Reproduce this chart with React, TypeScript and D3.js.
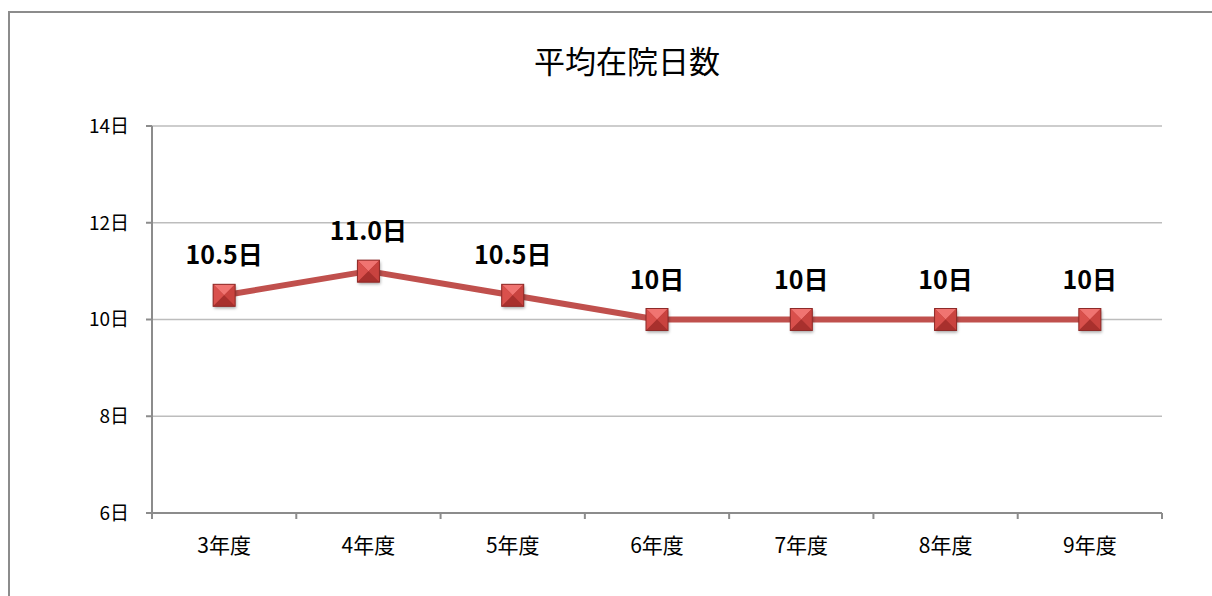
import React from 'react'
import * as d3 from 'd3'

const categories = ['3年度', '4年度', '5年度', '6年度', '7年度', '8年度', '9年度']
const values = [10.5, 11.0, 10.5, 10, 10, 10, 10]
const valueLabels = ['10.5日', '11.0日', '10.5日', '10日', '10日', '10日', '10日']
const yTicks = [6, 8, 10, 12, 14]

const W = 1212
const H = 596
const left = 152
const right = 1162
const top = 126
const bottom = 513
const font = '"Noto Sans CJK JP", "Noto Sans", sans-serif'

const App = () => {
  const x = d3.scaleBand<string>().domain(categories).range([left, right])
  const y = d3.scaleLinear().domain([6, 14]).range([bottom, top])
  const cx = (c: string) => (x(c) ?? 0) + x.bandwidth() / 2

  const line = d3
    .line<number>()
    .x((_, i) => cx(categories[i]))
    .y(d => y(d))

  const s = 11 // half marker size

  return (
    <svg width={W} height={H} style={{ position: 'absolute', left: 0, top: 0 }}>
      <defs>
        <filter id="sh" x="-50%" y="-50%" width="200%" height="200%">
          <feDropShadow dx="1" dy="2" stdDeviation="1.5" floodColor="#000" floodOpacity="0.35" />
        </filter>
      </defs>
      <rect x={0} y={0} width={W} height={H} fill="#fff" />
      {/* chart frame */}
      <path d={`M9,${H} V12 H${W}`} fill="none" stroke="#8c8c8c" strokeWidth={2} />

      <text x={627} y={73} textAnchor="middle" fontFamily={font} fontSize={31} fill="#000">
        平均在院日数
      </text>

      {/* grid */}
      {yTicks.map(t => (
        <g key={t}>
          {t !== 6 && (
            <line x1={left} x2={right} y1={y(t)} y2={y(t)} stroke="#bdbdbd" strokeWidth={1.5} />
          )}
          <line x1={left - 6} x2={left} y1={y(t)} y2={y(t)} stroke="#8c8c8c" strokeWidth={2} />
          <text
            x={129}
            y={y(t)}
            dy="0.36em"
            textAnchor="end"
            fontFamily={font}
            fontSize={19}
            fill="#000"
          >
            {t}日
          </text>
        </g>
      ))}

      {/* axes */}
      <line x1={left} x2={left} y1={top} y2={bottom} stroke="#8c8c8c" strokeWidth={2} />
      <line x1={left - 6} x2={right} y1={bottom} y2={bottom} stroke="#8c8c8c" strokeWidth={2} />
      {categories.concat(['_end']).map((c, i) => {
        const xx = i < categories.length ? x(c) ?? 0 : right
        return <line key={c} x1={xx} x2={xx} y1={bottom} y2={bottom + 6} stroke="#8c8c8c" strokeWidth={2} />
      })}
      {categories.map(c => (
        <text
          key={c}
          x={cx(c)}
          y={553}
          textAnchor="middle"
          fontFamily={font}
          fontSize={21}
          fill="#000"
        >
          {c}
        </text>
      ))}

      {/* series */}
      <path d={line(values) ?? ''} fill="none" stroke="#c0504d" strokeWidth={6} strokeLinejoin="round" />
      {values.map((v, i) => {
        const px = cx(categories[i])
        const py = y(v)
        return (
          <g key={i} transform={`translate(${px},${py})`}>
            <rect x={-s} y={-s} width={2 * s} height={2 * s} fill="#b83a37" filter="url(#sh)" />
            <polygon points={`${-s},${-s} ${s},${-s} 0,0`} fill="#f07471" />
            <polygon points={`${-s},${-s} ${-s},${s} 0,0`} fill="#d9504c" />
            <polygon points={`${s},${-s} ${s},${s} 0,0`} fill="#c9433f" />
            <polygon points={`${-s},${s} ${s},${s} 0,0`} fill="#a8302d" />
            <rect x={-s} y={-s} width={2 * s} height={2 * s} fill="none" stroke="#8e2a28" strokeWidth={1} />
          </g>
        )
      })}
      {values.map((v, i) => (
        <text
          key={i}
          x={cx(categories[i])}
          y={y(v) - 31}
          textAnchor="middle"
          fontFamily={font}
          fontSize={25}
          fontWeight="bold"
          fill="#000"
        >
          {valueLabels[i]}
        </text>
      ))}
    </svg>
  )
}

export default App
